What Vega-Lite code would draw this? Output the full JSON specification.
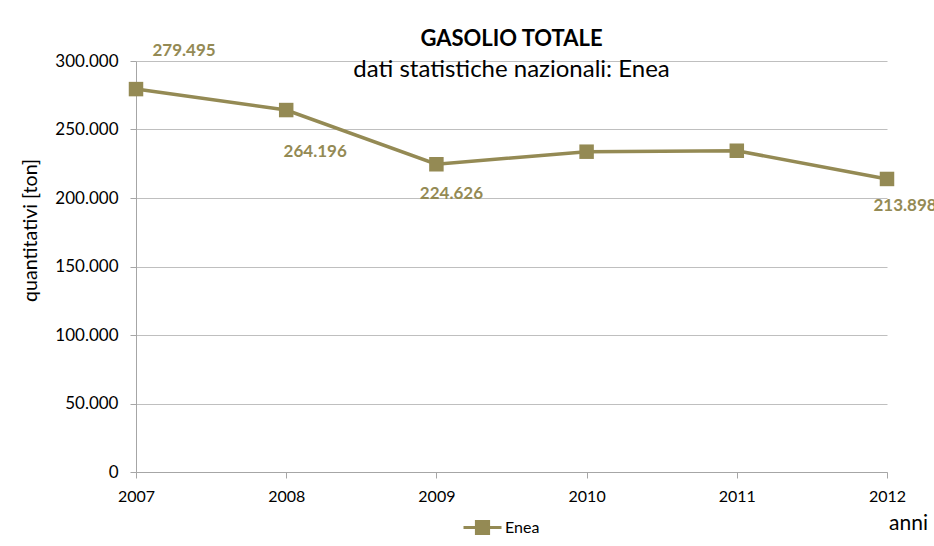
{
  "$schema": "https://vega.github.io/schema/vega-lite/v6.json",
  "width": 751,
  "height": 411,
  "autosize": {"type": "none"},
  "padding": {"left": 136, "top": 61, "right": 47, "bottom": 74},
  "background": "white",
  "title": {
    "text": "GASOLIO TOTALE",
    "subtitle": "dati statistiche nazionali: Enea",
    "anchor": "middle",
    "frame": "group",
    "font": "Lato",
    "fontSize": 22,
    "fontWeight": "bold",
    "color": "black",
    "subtitleFont": "Lato",
    "subtitleFontSize": 24,
    "subtitleColor": "black",
    "subtitlePadding": 7,
    "offset": -41
  },
  "data": {
    "values": [
      {"anno": "2007", "valore": 279495, "serie": "Enea"},
      {"anno": "2008", "valore": 264196, "serie": "Enea"},
      {"anno": "2009", "valore": 224626, "serie": "Enea"},
      {"anno": "2010", "valore": 233800, "serie": "Enea"},
      {"anno": "2011", "valore": 234500, "serie": "Enea"},
      {"anno": "2012", "valore": 213898, "serie": "Enea"}
    ]
  },
  "encoding": {
    "x": {
      "field": "anno",
      "type": "ordinal",
      "scale": {"type": "point", "padding": 0},
      "axis": {
        "title": "anni",
        "titleX": 772,
        "titleY": 51,
        "titleBaseline": "middle",
        "titleFont": "Lato",
        "titleFontSize": 21,
        "titleFontWeight": "normal",
        "titleColor": "black",
        "labelAngle": 0,
        "labelFont": "Lato",
        "labelFontSize": 16,
        "labelColor": "black",
        "labelPadding": 10,
        "tickSize": 6,
        "tickColor": "#A6A6A6",
        "domainColor": "#A6A6A6",
        "grid": false
      }
    },
    "y": {
      "field": "valore",
      "type": "quantitative",
      "scale": {"domain": [0, 300000], "nice": false},
      "axis": {
        "title": "quantitativi [ton]",
        "titleFont": "Lato",
        "titleFontSize": 19.6,
        "titleFontWeight": "normal",
        "titleColor": "black",
        "titleX": -106,
        "titleY": 169,
        "titleBaseline": "middle",
        "format": ",d",
        "values": [0, 50000, 100000, 150000, 200000, 250000, 300000],
        "labelFont": "Lato",
        "labelFontSize": 17,
        "labelColor": "black",
        "labelPadding": 12,
        "tickSize": 6,
        "tickColor": "#A6A6A6",
        "domainColor": "#A6A6A6",
        "grid": true,
        "gridColor": "#BFBFBF"
      }
    }
  },
  "layer": [
    {
      "mark": {"type": "line", "strokeWidth": 3.5},
      "encoding": {
        "color": {
          "field": "serie",
          "type": "nominal",
          "scale": {"range": ["#948A54"]},
          "legend": {
            "title": null,
            "orient": "none",
            "legendX": 326,
            "legendY": 446,
            "symbolType": "M-1,0H1M-0.32,-0.32H0.32V0.32H-0.32Z",
            "symbolSize": 1444,
            "symbolStrokeWidth": 3,
            "labelFont": "Lato",
            "labelFontSize": 16,
            "labelColor": "black",
            "labelOffset": 2,
            "encode": {"symbols": {"update": {"fill": {"value": "#948A54"}, "stroke": {"value": "#948A54"}, "opacity": {"value": 1}}}}
          }
        }
      }
    },
    {
      "mark": {"type": "point", "shape": "square", "filled": true, "size": 210, "color": "#948A54", "opacity": 1}
    },
    {
      "transform": [{"filter": "datum.anno == '2007'"}],
      "mark": {"type": "text", "dx": 48, "dy": -38, "font": "Lato", "fontSize": 17, "fontWeight": "bold", "color": "#948A54"},
      "encoding": {"text": {"field": "valore", "type": "quantitative", "format": ",d"}}
    },
    {
      "transform": [{"filter": "datum.anno == '2008'"}],
      "mark": {"type": "text", "dx": 29, "dy": 42, "font": "Lato", "fontSize": 17, "fontWeight": "bold", "color": "#948A54"},
      "encoding": {"text": {"field": "valore", "type": "quantitative", "format": ",d"}}
    },
    {
      "transform": [{"filter": "datum.anno == '2009'"}],
      "mark": {"type": "text", "dx": 15, "dy": 30, "font": "Lato", "fontSize": 17, "fontWeight": "bold", "color": "#948A54"},
      "encoding": {"text": {"field": "valore", "type": "quantitative", "format": ",d"}}
    },
    {
      "transform": [{"filter": "datum.anno == '2012'"}],
      "mark": {"type": "text", "dx": 18, "dy": 27, "font": "Lato", "fontSize": 17, "fontWeight": "bold", "color": "#948A54"},
      "encoding": {"text": {"field": "valore", "type": "quantitative", "format": ",d"}}
    }
  ],
  "config": {
    "font": "Lato",
    "view": {"stroke": null},
    "locale": {
      "number": {"decimal": ",", "thousands": ".", "grouping": [3], "currency": ["€", ""]}
    }
  }
}
